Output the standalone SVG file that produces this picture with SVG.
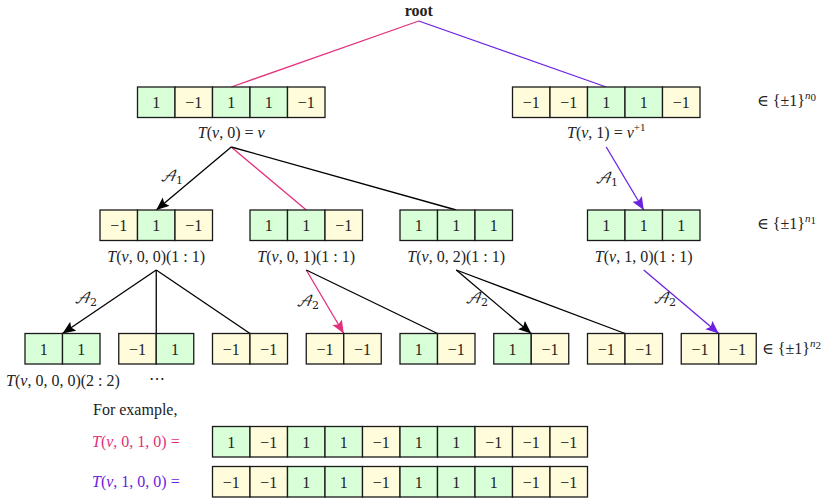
<svg xmlns="http://www.w3.org/2000/svg" width="831" height="498" viewBox="0 0 831 498">
<style>
text{font-family:"Liberation Serif","DejaVu Serif",serif;font-size:16px;fill:#222}
.g{fill:#d9ffd9;stroke:#1a1a1a;stroke-width:1.3}
.y{fill:#fffcdc;stroke:#1a1a1a;stroke-width:1.3}
.c{text-anchor:middle}
.i{font-style:italic}
.lab{text-anchor:middle;font-size:16px}
.sc{font-family:"DejaVu Math TeX Gyre","DejaVu Serif",serif;font-style:italic;font-size:15px;text-anchor:end}
.sub{font-size:11px}
.e{fill:none;stroke-width:1.3}
.k{stroke:#000}
.p{stroke:#e3307c}
.v{stroke:#6a22e0}
</style>
<defs>
<marker id="ak" markerUnits="userSpaceOnUse" markerWidth="14" markerHeight="12" refX="13" refY="5.5" orient="auto"><path d="M0,0 L13,5.5 L0,11 L2.5,5.5 z" fill="#000"/></marker>
<marker id="ap" markerUnits="userSpaceOnUse" markerWidth="14" markerHeight="12" refX="13" refY="5.5" orient="auto"><path d="M0,0 L13,5.5 L0,11 L2.5,5.5 z" fill="#e3307c"/></marker>
<marker id="av" markerUnits="userSpaceOnUse" markerWidth="14" markerHeight="12" refX="13" refY="5.5" orient="auto"><path d="M0,0 L13,5.5 L0,11 L2.5,5.5 z" fill="#6a22e0"/></marker>
</defs>

<g id="connectors">
<line class="e p" x1="418.75" y1="21" x2="231.25" y2="87"/>
<line class="e v" x1="418.75" y1="21" x2="606.25" y2="87"/>
<line class="e k" x1="231.25" y1="147" x2="156.25" y2="210" marker-end="url(#ak)"/>
<line class="e p" x1="231.25" y1="147" x2="306.25" y2="210"/>
<line class="e k" x1="231.25" y1="147" x2="456.25" y2="210"/>
<line class="e v" x1="606.25" y1="147" x2="643.75" y2="210" marker-end="url(#av)"/>
<line class="e k" x1="156.25" y1="270" x2="62.5" y2="333.5" marker-end="url(#ak)"/>
<line class="e k" x1="156.25" y1="270" x2="156.25" y2="333.5"/>
<line class="e k" x1="156.25" y1="270" x2="250" y2="333.5"/>
<line class="e p" x1="306.25" y1="270" x2="343.75" y2="333.5" marker-end="url(#ap)"/>
<line class="e k" x1="306.25" y1="270" x2="437.5" y2="333.5"/>
<line class="e k" x1="456.25" y1="270" x2="531.25" y2="333.5" marker-end="url(#ak)"/>
<line class="e k" x1="456.25" y1="270" x2="625" y2="333.5"/>
<line class="e v" x1="643.75" y1="270" x2="718.75" y2="333.5" marker-end="url(#av)"/>
<text x="183" y="181" class="sc">𝒜<tspan class="sub" dy="3" font-style="normal">1</tspan></text>
<text x="618" y="183" class="sc">𝒜<tspan class="sub" dy="3" font-style="normal">1</tspan></text>
<text x="97" y="303" class="sc">𝒜<tspan class="sub" dy="3" font-style="normal">2</tspan></text>
<text x="319" y="306" class="sc">𝒜<tspan class="sub" dy="3" font-style="normal">2</tspan></text>
<text x="488" y="303" class="sc">𝒜<tspan class="sub" dy="3" font-style="normal">2</tspan></text>
<text x="676" y="303" class="sc">𝒜<tspan class="sub" dy="3" font-style="normal">2</tspan></text>
</g>

<g id="root"><text x="418.75" y="16" class="c" font-weight="bold">root</text></g>

<g id="n0">
<rect class="g" x="137.5" y="87" width="37.5" height="30.5"/><rect class="y" x="175" y="87" width="37.5" height="30.5"/><rect class="g" x="212.5" y="87" width="37.5" height="30.5"/><rect class="g" x="250" y="87" width="37.5" height="30.5"/><rect class="y" x="287.5" y="87" width="37.5" height="30.5"/>
<text class="c" x="156.25" y="108">1</text><text class="c" x="193.75" y="108">−1</text><text class="c" x="231.25" y="108">1</text><text class="c" x="268.75" y="108">1</text><text class="c" x="306.25" y="108">−1</text>
<text class="lab" x="231.25" y="138"><tspan class="i">T</tspan>(<tspan class="i">v</tspan>, 0) = <tspan class="i">v</tspan></text>
</g>

<g id="n1">
<rect class="y" x="512.5" y="87" width="37.5" height="30.5"/><rect class="y" x="550" y="87" width="37.5" height="30.5"/><rect class="g" x="587.5" y="87" width="37.5" height="30.5"/><rect class="g" x="625" y="87" width="37.5" height="30.5"/><rect class="y" x="662.5" y="87" width="37.5" height="30.5"/>
<text class="c" x="531.25" y="108">−1</text><text class="c" x="568.75" y="108">−1</text><text class="c" x="606.25" y="108">1</text><text class="c" x="643.75" y="108">1</text><text class="c" x="681.25" y="108">−1</text>
<text class="lab" x="606.25" y="138"><tspan class="i">T</tspan>(<tspan class="i">v</tspan>, 1) = <tspan class="i">v</tspan><tspan class="sub" dy="-7">+1</tspan></text>
</g>

<g id="n00">
<rect class="y" x="100" y="210" width="37.5" height="30.5"/><rect class="g" x="137.5" y="210" width="37.5" height="30.5"/><rect class="y" x="175" y="210" width="37.5" height="30.5"/>
<text class="c" x="118.75" y="231">−1</text><text class="c" x="156.25" y="231">1</text><text class="c" x="193.75" y="231">−1</text>
<text class="lab" x="156.25" y="262"><tspan class="i">T</tspan>(<tspan class="i">v</tspan>, 0, 0)(1 : 1)</text>
</g>
<g id="n01">
<rect class="g" x="250" y="210" width="37.5" height="30.5"/><rect class="g" x="287.5" y="210" width="37.5" height="30.5"/><rect class="y" x="325" y="210" width="37.5" height="30.5"/>
<text class="c" x="268.75" y="231">1</text><text class="c" x="306.25" y="231">1</text><text class="c" x="343.75" y="231">−1</text>
<text class="lab" x="306.25" y="262"><tspan class="i">T</tspan>(<tspan class="i">v</tspan>, 0, 1)(1 : 1)</text>
</g>
<g id="n02">
<rect class="g" x="400" y="210" width="37.5" height="30.5"/><rect class="g" x="437.5" y="210" width="37.5" height="30.5"/><rect class="g" x="475" y="210" width="37.5" height="30.5"/>
<text class="c" x="418.75" y="231">1</text><text class="c" x="456.25" y="231">1</text><text class="c" x="493.75" y="231">1</text>
<text class="lab" x="456.25" y="262"><tspan class="i">T</tspan>(<tspan class="i">v</tspan>, 0, 2)(1 : 1)</text>
</g>
<g id="n10">
<rect class="g" x="587.5" y="210" width="37.5" height="30.5"/><rect class="g" x="625" y="210" width="37.5" height="30.5"/><rect class="g" x="662.5" y="210" width="37.5" height="30.5"/>
<text class="c" x="606.25" y="231">1</text><text class="c" x="643.75" y="231">1</text><text class="c" x="681.25" y="231">1</text>
<text class="lab" x="643.75" y="262"><tspan class="i">T</tspan>(<tspan class="i">v</tspan>, 1, 0)(1 : 1)</text>
</g>

<g id="n000">
<rect class="g" x="25" y="333.5" width="37.5" height="30.5"/><rect class="g" x="62.5" y="333.5" width="37.5" height="30.5"/>
<text class="c" x="43.75" y="354.5">1</text><text class="c" x="81.25" y="354.5">1</text>
<text class="lab" x="63" y="386"><tspan class="i">T</tspan>(<tspan class="i">v</tspan>, 0, 0, 0)(2 : 2)</text>
</g>
<g id="n001">
<rect class="y" x="118.75" y="333.5" width="37.5" height="30.5"/><rect class="g" x="156.25" y="333.5" width="37.5" height="30.5"/>
<text class="c" x="137.5" y="354.5">−1</text><text class="c" x="175" y="354.5">1</text>
<text class="lab" x="157" y="384">⋯</text>
</g>
<g id="n002">
<rect class="y" x="212.5" y="333.5" width="37.5" height="30.5"/><rect class="y" x="250" y="333.5" width="37.5" height="30.5"/>
<text class="c" x="231.25" y="354.5">−1</text><text class="c" x="268.75" y="354.5">−1</text>
</g>
<g id="n010">
<rect class="y" x="306.25" y="333.5" width="37.5" height="30.5"/><rect class="y" x="343.75" y="333.5" width="37.5" height="30.5"/>
<text class="c" x="325" y="354.5">−1</text><text class="c" x="362.5" y="354.5">−1</text>
</g>
<g id="n011">
<rect class="g" x="400" y="333.5" width="37.5" height="30.5"/><rect class="y" x="437.5" y="333.5" width="37.5" height="30.5"/>
<text class="c" x="418.75" y="354.5">1</text><text class="c" x="456.25" y="354.5">−1</text>
</g>
<g id="n020">
<rect class="g" x="493.75" y="333.5" width="37.5" height="30.5"/><rect class="y" x="531.25" y="333.5" width="37.5" height="30.5"/>
<text class="c" x="512.5" y="354.5">1</text><text class="c" x="550" y="354.5">−1</text>
</g>
<g id="n021">
<rect class="y" x="587.5" y="333.5" width="37.5" height="30.5"/><rect class="y" x="625" y="333.5" width="37.5" height="30.5"/>
<text class="c" x="606.25" y="354.5">−1</text><text class="c" x="643.75" y="354.5">−1</text>
</g>
<g id="n100">
<rect class="y" x="681.25" y="333.5" width="37.5" height="30.5"/><rect class="y" x="718.75" y="333.5" width="37.5" height="30.5"/>
<text class="c" x="700" y="354.5">−1</text><text class="c" x="737.5" y="354.5">−1</text>
</g>

<g id="sets">
<text x="757" y="106">∈ {±1}<tspan class="sub i" dy="-7">n</tspan><tspan class="sub" font-size="8" dy="2">0</tspan></text>
<text x="757" y="229">∈ {±1}<tspan class="sub i" dy="-7">n</tspan><tspan class="sub" font-size="8" dy="2">1</tspan></text>
<text x="762" y="354">∈ {±1}<tspan class="sub i" dy="-7">n</tspan><tspan class="sub" font-size="8" dy="2">2</tspan></text>
</g>

<g id="example">
<text x="93" y="415">For example,</text>
<text x="92" y="447" style="fill:#e3307c"><tspan class="i">T</tspan>(<tspan class="i">v</tspan>, 0, 1, 0) =</text>
<text x="92" y="487" style="fill:#6a22e0"><tspan class="i">T</tspan>(<tspan class="i">v</tspan>, 1, 0, 0) =</text>
</g>

<g id="row1">
<rect class="g" x="212.5" y="426.5" width="37.5" height="30.5"/><rect class="y" x="250" y="426.5" width="37.5" height="30.5"/><rect class="g" x="287.5" y="426.5" width="37.5" height="30.5"/><rect class="g" x="325" y="426.5" width="37.5" height="30.5"/><rect class="y" x="362.5" y="426.5" width="37.5" height="30.5"/><rect class="g" x="400" y="426.5" width="37.5" height="30.5"/><rect class="g" x="437.5" y="426.5" width="37.5" height="30.5"/><rect class="y" x="475" y="426.5" width="37.5" height="30.5"/><rect class="y" x="512.5" y="426.5" width="37.5" height="30.5"/><rect class="y" x="550" y="426.5" width="37.5" height="30.5"/>
<text class="c" x="231.25" y="447.5">1</text><text class="c" x="268.75" y="447.5">−1</text><text class="c" x="306.25" y="447.5">1</text><text class="c" x="343.75" y="447.5">1</text><text class="c" x="381.25" y="447.5">−1</text><text class="c" x="418.75" y="447.5">1</text><text class="c" x="456.25" y="447.5">1</text><text class="c" x="493.75" y="447.5">−1</text><text class="c" x="531.25" y="447.5">−1</text><text class="c" x="568.75" y="447.5">−1</text>
</g>
<g id="row2">
<rect class="y" x="212.5" y="466.5" width="37.5" height="30.5"/><rect class="y" x="250" y="466.5" width="37.5" height="30.5"/><rect class="g" x="287.5" y="466.5" width="37.5" height="30.5"/><rect class="g" x="325" y="466.5" width="37.5" height="30.5"/><rect class="y" x="362.5" y="466.5" width="37.5" height="30.5"/><rect class="g" x="400" y="466.5" width="37.5" height="30.5"/><rect class="g" x="437.5" y="466.5" width="37.5" height="30.5"/><rect class="g" x="475" y="466.5" width="37.5" height="30.5"/><rect class="y" x="512.5" y="466.5" width="37.5" height="30.5"/><rect class="y" x="550" y="466.5" width="37.5" height="30.5"/>
<text class="c" x="231.25" y="487.5">−1</text><text class="c" x="268.75" y="487.5">−1</text><text class="c" x="306.25" y="487.5">1</text><text class="c" x="343.75" y="487.5">1</text><text class="c" x="381.25" y="487.5">−1</text><text class="c" x="418.75" y="487.5">1</text><text class="c" x="456.25" y="487.5">1</text><text class="c" x="493.75" y="487.5">1</text><text class="c" x="531.25" y="487.5">−1</text><text class="c" x="568.75" y="487.5">−1</text>
</g>
</svg>
